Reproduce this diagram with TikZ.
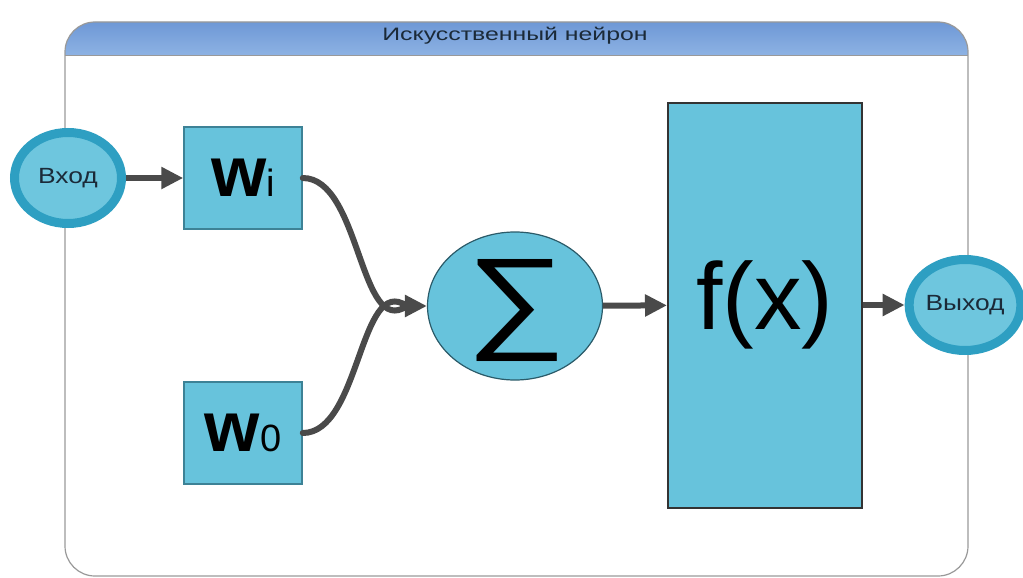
\documentclass[tikz,border=0pt]{standalone}
\usepackage{fontspec}
\setmainfont{Liberation Sans}
\usetikzlibrary{arrows.meta,shapes.geometric}

\definecolor{cellfill}{HTML}{67C3DC}
\definecolor{cellline}{HTML}{3D8296}
\definecolor{portring}{HTML}{2E9FC2}
\definecolor{portfill}{HTML}{6EC6DE}
\definecolor{linkgray}{HTML}{4A4A4A}
\definecolor{headtop}{HTML}{6E98D6}
\definecolor{headbot}{HTML}{8DB2E3}
\definecolor{labelink}{HTML}{1B2A38}

\tikzset{
  weightbox/.style={draw=cellline, line width=1.5pt, fill=cellfill,
    minimum width=118pt, minimum height=102pt, inner sep=0pt},
  portnode/.style={ellipse, draw=portring, line width=9pt, fill=portfill,
    inner sep=0pt, text=labelink, font=\fontsize{22}{22}\selectfont},
  link/.style={draw=linkgray, line width=6pt,
    -{Triangle[length=22pt,width=21pt]}}
}

\begin{document}
\begin{tikzpicture}[x=1pt,y=-1pt]
  \useasboundingbox (0,0) rectangle (1023,578);
  % frame and title band
  \begin{scope}
    \clip[rounded corners=30pt] (65,22) rectangle (968,576);
    \shade[top color=headtop, bottom color=headbot] (65,22) rectangle (968,55);
    \draw[gray!80, line width=0.8pt] (65,55) -- (968,55);
  \end{scope}
  \draw[gray!80, line width=1.2pt, rounded corners=30pt] (65,22) rectangle (968,576);
  \node[font=\fontsize{18}{18}\selectfont, text=labelink] (title) at (515,36)
    {\scalebox{1.38}[1]{Искусственный нейрон}};

  % weights
  \node[weightbox] (wi) at (243,178) {{\fontsize{71}{71}\selectfont\bfseries w}{\fontsize{38}{38}\selectfont i}};
  \node[weightbox] (w0) at (243,433) {{\fontsize{71}{71}\selectfont\bfseries w}{\fontsize{38}{38}\selectfont 0}};

  % sum and activation
  \node[ellipse, draw=cellline!70!black, line width=1.2pt, fill=cellfill,
    minimum width=175pt, minimum height=148pt, inner sep=0pt] (sum) at (515,306) {};
  \node (sigma) at (516,311) {\scalebox{1}[0.81]{\fontsize{140}{140}\selectfont ∑}};
  \node[draw=black!80, line width=2pt, fill=cellfill, minimum width=194pt,
    minimum height=405pt, inner sep=0pt] (act) at (765,305)
    {\fontsize{95}{95}\selectfont f(x)};

  % input and output
  \node[portnode, minimum width=107pt, minimum height=91pt] (in) at (68,178)
    {\scalebox{1.2}[1]{Вход}};
  \node[portnode, minimum width=101pt, minimum height=91pt] (out) at (965,305)
    {\scalebox{1.2}[1]{Выход}};

  % connectors
  \coordinate (join) at ([xshift=-20pt]sum.west);
  \draw[linkgray, line width=6pt, line cap=round] (wi.east) to[out=0, in=215, looseness=0.9] (join);
  \draw[linkgray, line width=6pt, line cap=round] (w0.east) to[out=0, in=145, looseness=0.9] (join);
  \draw[link] (join) -- (sum.west);
  \draw[link] (in) -- (wi);
  \draw[link] (sum) -- (act);
  \draw[link] (act) -- (out);
\end{tikzpicture}
\end{document}
